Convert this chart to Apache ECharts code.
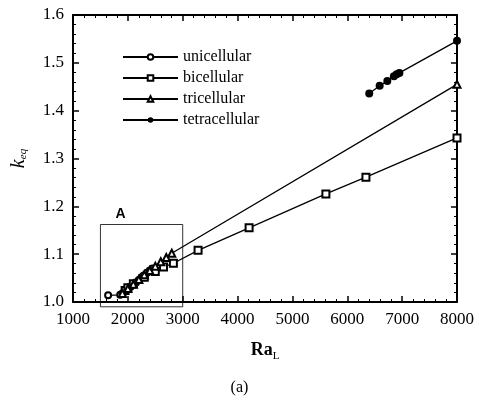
<!DOCTYPE html>
<html>
<head>
<meta charset="utf-8">
<script src="https://cdn.jsdelivr.net/npm/echarts@6/dist/echarts.min.js"></script>
<style>
  html, body { margin: 0; padding: 0; background: #fff; }
  #main { width: 479px; height: 400px; }
</style>
</head>
<body>
<div id="main"></div>
<script>
var chart = echarts.init(document.getElementById('main'));

// values (Ra_L, k_eq)
var unicellular = [[1640, 1.014], [1860, 1.015], [1900, 1.018], [1950, 1.022], [2000, 1.027],
  [2050, 1.032], [2100, 1.036], [2150, 1.041], [2200, 1.046], [2250, 1.051], [2300, 1.056],
  [2350, 1.061], [2400, 1.066], [2450, 1.070]];
var bicellular = [[1950, 1.024], [2000, 1.030], [2100, 1.038], [2300, 1.052], [2500, 1.064],
  [2650, 1.073], [2830, 1.081], [3280, 1.108], [4210, 1.155], [5610, 1.226], [6340, 1.261],
  [8000, 1.343]];
var tricellular = [[1900, 1.018], [2000, 1.028], [2100, 1.037], [2200, 1.047], [2300, 1.057],
  [2400, 1.066], [2500, 1.075], [2600, 1.084], [2700, 1.093], [2800, 1.102], [8000, 1.455]];
var tetracellular = [[6400, 1.436], [6590, 1.452], [6730, 1.462], [6850, 1.472], [6900, 1.476],
  [6950, 1.479], [8000, 1.546]];

var boxX = [1500, 3000];
var boxY = [0.99, 1.162];
var boxA = [[boxX[0], boxY[0]], [boxX[0], boxY[1]], [boxX[1], boxY[1]], [boxX[1], boxY[0]], [boxX[0], boxY[0]]];

var serif = '"Liberation Serif", "DejaVu Serif", serif';

function curve(name, data, symbol, size) {
  return {
    name: name,
    type: 'line',
    data: data,
    symbol: symbol,
    symbolSize: size,
    color: '#000',
    lineStyle: { color: '#000', width: 1.3 },
    itemStyle: { color: '#000', borderWidth: 1.2 },
    animation: false
  };
}

var axisCommon = {
  axisLine: { show: true, lineStyle: { color: '#000', width: 2 } },
  axisTick: { show: true, inside: true, length: 6, lineStyle: { color: '#000', width: 1.5 } },
  minorTick: { show: true, splitNumber: 5, length: 3, lineStyle: { color: '#000', width: 1 } },
  splitLine: { show: false }
};

var option = {
  backgroundColor: '#fff',
  grid: { left: 73, right: 22, top: 15, bottom: 98 },
  legend: {
    orient: 'vertical',
    left: 122,
    top: 49,
    padding: 0,
    itemWidth: 55,
    itemHeight: 7,
    itemGap: 5,
    data: ['unicellular', 'bicellular', 'tricellular', 'tetracellular'],
    textStyle: { fontFamily: serif, fontSize: 16, color: '#000' }
  },
  xAxis: [Object.assign({
    type: 'value', min: 1000, max: 8000, interval: 1000,
    name: '{r|Ra}{s|L}', nameLocation: 'middle', nameGap: 37,
    nameTextStyle: {
      rich: {
        r: { fontFamily: serif, fontSize: 18, fontWeight: 'bold', color: '#000' },
        s: { fontFamily: serif, fontSize: 11, color: '#000', verticalAlign: 'bottom', padding: [12, 0, 0, 0] }
      }
    },
    axisLabel: { fontFamily: serif, fontSize: 17, color: '#000', margin: 9,
      formatter: function (v) { return String(v); } }
  }, axisCommon), Object.assign({
    type: 'value', min: 1000, max: 8000, interval: 1000, position: 'top',
    axisLabel: { show: false }
  }, axisCommon)],
  yAxis: [Object.assign({
    type: 'value', min: 1.0, max: 1.6, interval: 0.1,
    name: '{k|k}{s|eq}', nameLocation: 'middle', nameGap: 44, nameRotate: 90,
    nameTextStyle: {
      rich: {
        k: { fontFamily: serif, fontSize: 20, fontStyle: 'italic', color: '#000' },
        s: { fontFamily: serif, fontSize: 11, fontStyle: 'italic', color: '#000', padding: [10, 0, 0, 0] }
      }
    },
    axisLabel: { fontFamily: serif, fontSize: 17, color: '#000', margin: 9,
      formatter: function (v) { return v.toFixed(1); } }
  }, axisCommon), Object.assign({
    type: 'value', min: 1.0, max: 1.6, interval: 0.1, position: 'right',
    axisLabel: { show: false }
  }, axisCommon)],
  series: [
    curve('unicellular', unicellular, 'emptyCircle', 6),
    curve('bicellular', bicellular, 'emptyRect', 7),
    curve('tricellular', tricellular, 'emptyTriangle', 7),
    curve('tetracellular', tetracellular, 'circle', 8),
    {
      name: 'A',
      type: 'line',
      data: boxA,
      symbol: 'none',
      clip: false,
      lineStyle: { color: '#000', width: 0.8 },
      animation: false,
      silent: true
    }
  ]
};

chart.setOption(option);

// label "A" just above the top-left of the inset box
var pA = chart.convertToPixel({ xAxisIndex: 0, yAxisIndex: 0 }, [boxX[0], boxY[1]]);
chart.setOption({
  graphic: [{
    type: 'text',
    left: pA[0] + 15,
    top: pA[1] - 17,
    style: { text: 'A', font: 'bold 14px "Liberation Sans", Arial, sans-serif', fill: '#000' }
  }, {
    type: 'text',
    left: 'center',
    top: 380,
    style: { text: '(a)', font: '16px ' + serif, fill: '#000' }
  }]
});
</script>
</body>
</html>
